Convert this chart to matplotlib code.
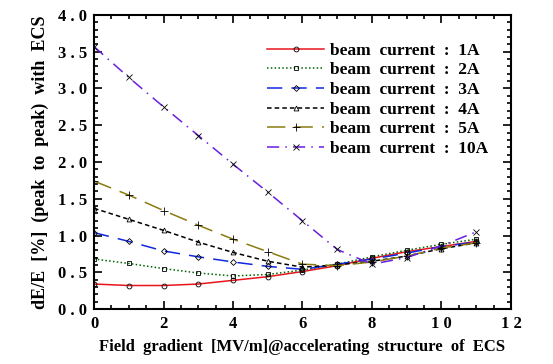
import numpy as np
import matplotlib
matplotlib.use('Agg')
import matplotlib.pyplot as plt
from matplotlib.ticker import MultipleLocator, FuncFormatter

# DATA
gradient = [0, 1, 2, 3, 4, 5, 6, 7, 8, 9, 10, 11]
labels = ['beam  current  :  1A', 'beam  current  :  2A', 'beam  current  :  3A',
          'beam  current  :  4A', 'beam  current  :  5A', 'beam  current  :  10A']
de_1A = [0.34, 0.32, 0.32, 0.34, 0.39, 0.44, 0.51, 0.59, 0.69, 0.78, 0.85, 0.92]
de_2A = [0.68, 0.62, 0.55, 0.49, 0.45, 0.47, 0.53, 0.61, 0.71, 0.80, 0.88, 0.95]
de_3A = [1.04, 0.92, 0.79, 0.71, 0.64, 0.58, 0.54, 0.61, 0.68, 0.76, 0.85, 0.91]
de_4A = [1.37, 1.22, 1.07, 0.91, 0.77, 0.65, 0.57, 0.60, 0.65, 0.72, 0.82, 0.90]
de_5A = [1.74, 1.55, 1.34, 1.14, 0.95, 0.78, 0.61, 0.59, 0.64, 0.72, 0.83, 0.90]
de_10A = [3.57, 3.15, 2.75, 2.36, 1.97, 1.59, 1.20, 0.81, 0.61, 0.70, 0.86, 1.05]

series = [de_1A, de_2A, de_3A, de_4A, de_5A, de_10A]
colors = ['#e8141c', '#006400', '#1028e0', '#000000', '#8b7a10', '#6a1ee0']
styles = ['-', (0, (1, 1.5)), (0, (10, 6)), (0, (3, 2)), (0, (12, 6)), (0, (8, 4, 1, 4))]
markers = ['o', 's', 'D', '^', '+', 'x']
msizes = [3.5, 3.5, 3, 3.5, 5.5, 4.5]

plt.rcParams['font.family'] = 'Liberation Serif'
plt.rcParams['font.weight'] = 'bold'

fig = plt.figure(figsize=(5.53, 3.64), dpi=100)
ax = fig.add_axes([0.17, 0.151, 0.754, 0.808])

for y, c, ls, m, ms, lab in zip(series, colors, styles, markers, msizes, labels):
    ax.plot(gradient, y, color=c, linestyle=ls, linewidth=1.1, marker=m,
            markersize=ms, markerfacecolor='none', markeredgecolor='black',
            markeredgewidth=0.6, label=lab)

ax.set_xlim(0, 12)
ax.set_ylim(0, 4)
ax.xaxis.set_major_locator(MultipleLocator(2))
ax.xaxis.set_minor_locator(MultipleLocator(0.5))
ax.yaxis.set_major_locator(MultipleLocator(0.5))
ax.yaxis.set_minor_locator(MultipleLocator(0.1))
ax.xaxis.set_major_formatter(FuncFormatter(lambda v, p: ' '.join('%d' % v)))
ax.yaxis.set_major_formatter(FuncFormatter(lambda v, p: ' '.join('%.1f' % v)))
ax.tick_params(which='both', direction='in', top=True, right=True, width=1.2)
ax.tick_params(which='major', length=6, labelsize=12, pad=5)
ax.tick_params(which='minor', length=3)
for s in ax.spines.values():
    s.set_linewidth(1.5)

ax.set_xlabel('Field  gradient  [MV/m]@accelerating  structure  of  ECS',
              fontsize=12, fontweight='bold', labelpad=5)
ax.set_ylabel('dE/E  [%]  (peak  to  peak)  with  ECS',
              fontsize=13, fontweight='bold', labelpad=6)

ax.legend(loc='upper right', bbox_to_anchor=(0.965, 0.935), frameon=False,
          fontsize=12.5, handlelength=3.3, handletextpad=0.3, labelspacing=0.2,
          borderpad=0.0)

plt.savefig('out.png', dpi=100)
